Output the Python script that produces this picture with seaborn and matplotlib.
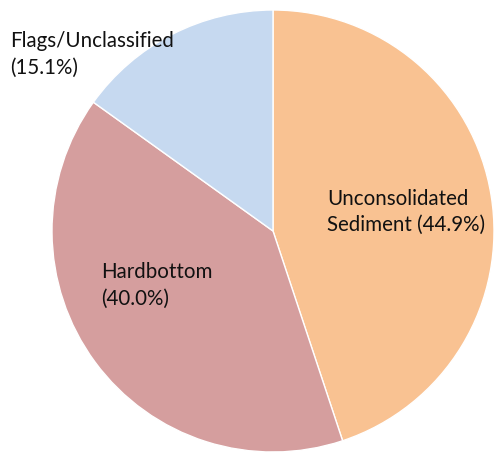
import matplotlib
matplotlib.use("Agg")
import matplotlib.pyplot as plt
import seaborn as sns

categories = ["Unconsolidated Sediment", "Hardbottom", "Flags/Unclassified"]
shares = [44.9, 40.0, 15.1]
colors = ["#F9C292", "#D59E9E", "#C6D9F0"]

# two text lines per label, placed by pixel baseline (x, first baseline, second baseline)
label_lines = [("Unconsolidated", "Sediment (44.9%)"),
               ("Hardbottom", "(40.0%)"),
               ("Flags/Unclassified", "(15.1%)")]
label_pos = [(327, 205, 231), (101, 278, 305), (10, 47, 74)]

sns.set_style("white")
plt.rcParams["font.family"] = ["Lato", "DejaVu Sans"]

W, H = 494, 454
fig = plt.figure(figsize=(W / 100, H / 100), dpi=100)
ax = fig.add_axes([0, 0, 1, 1])

ax.pie(shares, colors=sns.color_palette(colors), startangle=90, counterclock=False,
       center=(273, H - 231), radius=221,
       wedgeprops={"edgecolor": "white", "linewidth": 1.0}, frame=True)
ax.set_xlim(0, W)
ax.set_ylim(0, H)
ax.axis("off")

for (l1, l2), (px, y1, y2) in zip(label_lines, label_pos):
    for txt, py in ((l1, y1), (l2, y2)):
        ax.text(px, H - py, txt, ha="left", va="baseline", fontsize=14.8,
                color="#111111")

fig.savefig("out.png", dpi=100)
